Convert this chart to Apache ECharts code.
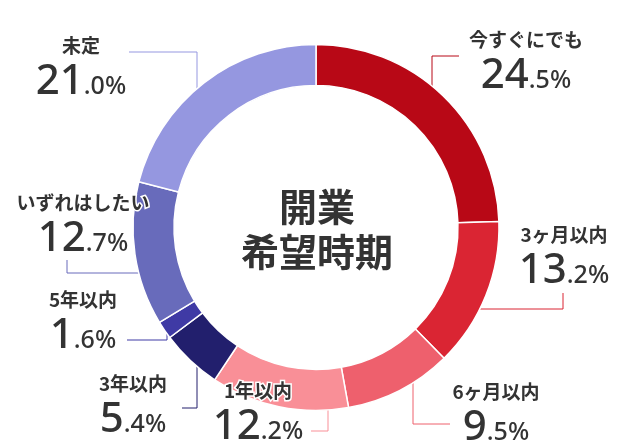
<!DOCTYPE html>
<html>
<head>
<meta charset="utf-8">
<script src="https://cdn.jsdelivr.net/npm/echarts@6/dist/echarts.min.js"></script>
<style>
    html, body {margin: 0; padding: 0; background: #fff;}
    #chart {width: 639px; height: 446px;}
</style>
</head>
<body>
<div id="chart"></div>
<script>
"use strict";
// data
var names = ['今すぐにでも', '3ヶ月以内', '6ヶ月以内', '1年以内', '3年以内', '5年以内', 'いずれはしたい', '未定'];
var values = [24.5, 13.2, 9.5, 12.2, 5.4, 1.6, 12.7, 21.0];
var colors = ['#b80816', '#da2533', '#ee606d', '#f98f97', '#221f6d', '#3f3aa5', '#686bbb', '#9597e0'];

// ring geometry (px)
var CX = 316, CY = 227.5, R_IN = 142, R_OUT = 183;

// label spots: name centre, elbow of leader line, end of leader line
var labelSpots = [
    {x: 526, y: 40, elbow: [432, 56], end: 459, dir: 'v'},
    {x: 564, y: 235, elbow: [563, 309], end: 293, dir: 'h'},
    {x: 496, y: 392, elbow: [413, 424], end: 450, dir: 'v'},
    {x: 258, y: 391, elbow: [328, 431], end: 311, dir: 'v'},
    {x: 133, y: 384, elbow: [197, 408], end: 182, dir: 'v'},
    {x: 83, y: 300, elbow: [167, 340], end: 127, dir: 'v'},
    {x: 83, y: 203, elbow: [67, 273], end: 260, dir: 'h'},
    {x: 81, y: 46, elbow: [197, 52], end: 129, dir: 'v'}
];

function leaderPoints(s) {
    var e = s.elbow;
    if (s.dir === 'v') {
        var dx = e[0] - CX;
        var h = Math.sqrt(R_OUT * R_OUT - dx * dx);
        var y = e[1] < CY ? CY - h : CY + h;
        return [[e[0], y], [e[0], e[1]], [s.end, e[1]]];
    }
    var dy = e[1] - CY;
    var w = Math.sqrt(R_OUT * R_OUT - dy * dy);
    var x = e[0] < CX ? CX - w : CX + w;
    return [[x, e[1]], [e[0], e[1]], [e[0], s.end]];
}

var pieData = names.map(function (n, i) {
    return {name: n, value: values[i], itemStyle: {color: colors[i]}};
});

var chart = echarts.init(document.getElementById('chart'));
chart.setOption({
    animation: false,
    graphic: [{
        type: 'text', x: 317, y: 229.5,
        style: {
            text: '開業\n希望時期', align: 'center', verticalAlign: 'middle',
            fontSize: 38, fontWeight: 'bold', fontFamily: '"Noto Sans CJK JP"',
            lineHeight: 45, fill: '#333'
        }
    }],
    series: [{
        type: 'pie',
        center: [CX, CY],
        radius: [R_IN, R_OUT],
        startAngle: 90,
        avoidLabelOverlap: false,
        emphasis: {scale: false},
        itemStyle: {borderColor: '#fff', borderWidth: 1.5},
        label: {
            show: true,
            position: 'outside',
            formatter: function (p) {
                var parts = p.value.toFixed(1).split('.');
                return '{n|' + p.name + '}\n{i|' + parts[0] + '}{d|.' + parts[1] + '%}';
            },
            rich: {
                n: {fontSize: 19, fontWeight: 'bold', fontFamily: '"Noto Sans CJK JP"', lineHeight: 26,
                    color: '#333', textBorderColor: '#fff', textBorderWidth: 3, verticalAlign: 'middle'},
                i: {fontSize: 42, fontWeight: 500, fontFamily: '"Noto Sans"', lineHeight: 46, color: '#333',
                    textBorderColor: '#fff', textBorderWidth: 3, verticalAlign: 'middle'},
                d: {fontSize: 25, fontWeight: 500, fontFamily: '"Noto Sans"', height: 36, color: '#333',
                    textBorderColor: '#fff', textBorderWidth: 3, verticalAlign: 'bottom'}
            }
        },
        labelLine: {show: true, smooth: false, length: 10, length2: 10, lineStyle: {width: 1}},
        labelLayout: function (params) {
            var s = labelSpots[params.dataIndex];
            return {
                x: s.x, y: s.y - 13,
                align: 'center', verticalAlign: 'top',
                labelLinePoints: leaderPoints(s)
            };
        },
        data: pieData
    }]
});
</script>
</body>
</html>
